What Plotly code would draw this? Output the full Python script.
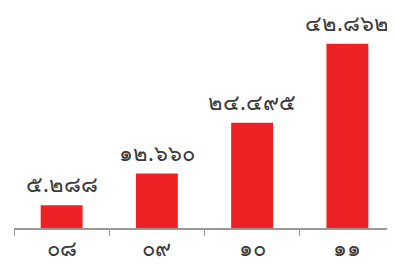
import plotly.graph_objects as go

categories = ["๐๘", "๐๙", "๑๐", "๑๑"]
values = [5.288, 12.660, 24.495, 42.862]
value_labels = ["๕.๒๘๘", "๑๒.๖๖๐", "๒๔.๔๙๕", "๔๒.๘๖๒"]

fig = go.Figure(go.Bar(
    x=categories, y=values,
    marker=dict(color="#EE2224", line=dict(width=0)),
    width=0.44, cliponaxis=False,
))
for c, v, t in zip(categories, values, value_labels):
    fig.add_annotation(x=c, y=v, text=t, showarrow=False, yanchor="bottom",
                       yshift=6, borderpad=0, font=dict(size=22, color="#3a3a3a"))
# page body has an 8px margin, so the figure is sized to fit the window
fig.update_layout(
    width=387, height=261,
    margin=dict(l=6, r=0, t=0, b=41, autoexpand=False),
    paper_bgcolor="white", plot_bgcolor="white",
    showlegend=False,
    font=dict(family="Noto Sans, DejaVu Sans", color="#3a3a3a"),
    xaxis=dict(showline=True, linecolor="#999999", linewidth=1.5, automargin=False,
               ticks="outside", tickson="boundaries", ticklen=6, tickcolor="#999999",
               tickfont=dict(size=22, color="#3a3a3a"), showgrid=False),
    yaxis=dict(visible=False, range=[0, 51.2], showgrid=False, automargin=False),
)
fig.write_html("out.html")
